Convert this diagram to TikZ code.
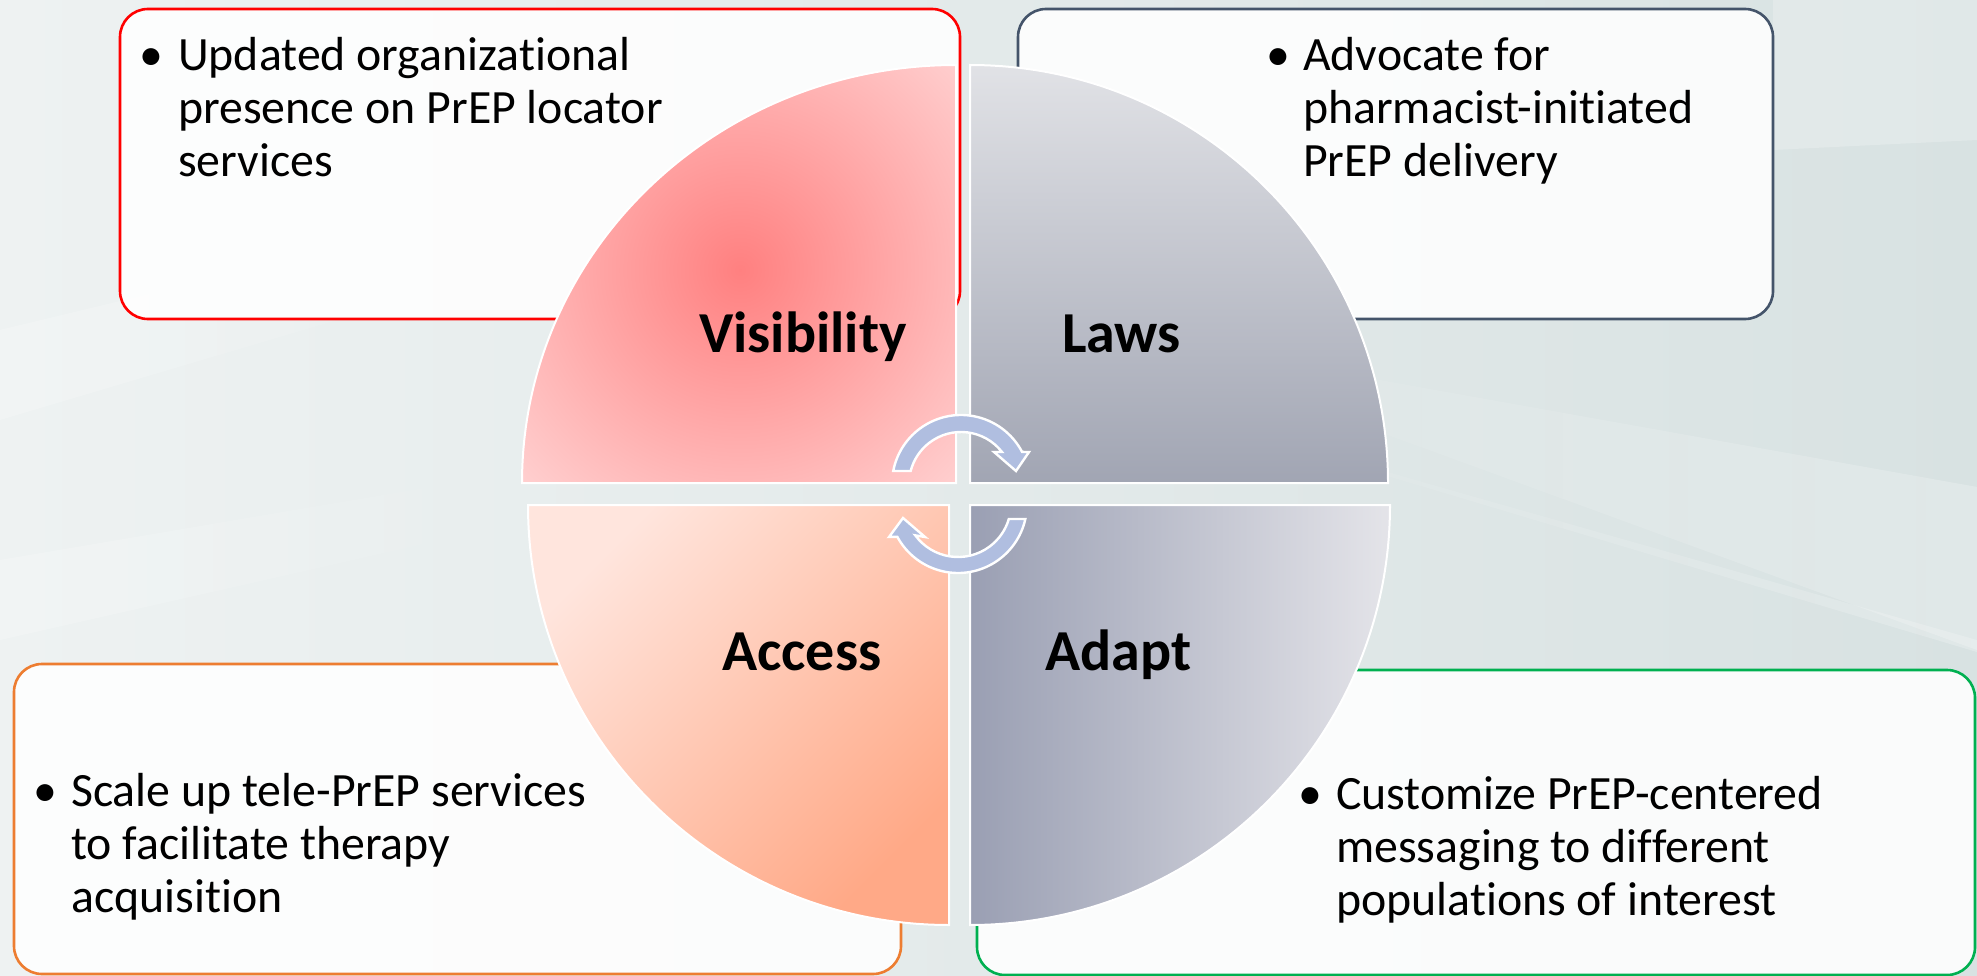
\documentclass[tikz,border=0pt]{standalone}
\usepackage{fontspec}
\setmainfont{Carlito}[Ligatures=NoCommon]
\usetikzlibrary{fadings}
\begin{document}
\begin{tikzpicture}[x=1pt,y=-1pt]
% palette
\definecolor{bgL}{HTML}{EEF2F2}
\definecolor{bgR}{HTML}{D8E2E2}
\definecolor{visCore}{HTML}{FF8080}
\definecolor{visEdge}{HTML}{FFD2D2}
\definecolor{lawTop}{HTML}{E1E2E6}
\definecolor{lawBot}{HTML}{A1A5B3}
\definecolor{accLight}{HTML}{FFE5DD}
\definecolor{accDeep}{HTML}{FFA987}
\definecolor{adaDeep}{HTML}{9A9FB3}
\definecolor{adaLight}{HTML}{E4E4E9}
\definecolor{arrowblue}{HTML}{B0BEE0}
\definecolor{lineRed}{HTML}{FF0000}
\definecolor{lineSlate}{HTML}{44546A}
\definecolor{lineOrange}{HTML}{ED7D31}
\definecolor{lineGreen}{HTML}{00B050}
\tikzset{
  card/.style={rounded corners=28pt, line width=2.6pt, fill=white, fill opacity=0.88},
  bodytxt/.style={inner sep=0pt, font=\fontsize{47.8}{53}\selectfont, anchor=base west},
  dot/.style={inner sep=0pt, font=\fontsize{47.8}{53}\selectfont, anchor=base},
  titletxt/.style={inner sep=0pt, font=\bfseries\fontsize{58}{68}\selectfont, anchor=base west},
  quad/.style={draw=white, line width=2pt},
  cycarrow/.style={fill=arrowblue, draw=white, line width=2.4pt, line join=miter},
  streak/.style={fill=white, opacity=0.22},
}
\useasboundingbox (0,0) rectangle (1977,976);

% backdrop with soft light streaks
\shade[left color=bgL, right color=bgR] (0,0) rectangle (1977,976);
\fill[streak, path fading=west] (1100,330) -- (1977,487) -- (1977,650) -- cycle;
\fill[streak, path fading=west] (1100,390) -- (1977,640) -- (1977,652) -- cycle;
\fill[streak] (1773,0) -- (1977,0) -- (1977,140) -- (1773,150) -- cycle;
\fill[streak, path fading=east] (0,330) -- (540,200) -- (540,260) -- (0,420) -- cycle;
\fill[streak, path fading=east] (0,560) -- (530,470) -- (530,520) -- (0,640) -- cycle;

% text cards
\draw[card, draw=lineRed]    (120,9)   rectangle (960,319);
\draw[card, draw=lineSlate]  (1018,9)  rectangle (1773,319);
\draw[card, draw=lineOrange] (14,664)  rectangle (901,974);
\draw[card, draw=lineGreen]  (977,670) rectangle (1975,975);

% quadrant: Visibility (radial glow)
\begin{scope}
  \clip (956,483) -- (522,483) arc[start angle=180, end angle=270, x radius=434, y radius=418] -- cycle;
  \fill[visEdge] (500,40) rectangle (980,500);
  \shade[inner color=visCore, outer color=visEdge] (740,270) circle[radius=315];
\end{scope}
\draw[quad] (956,483) -- (522,483) arc[start angle=180, end angle=270, x radius=434, y radius=418] -- cycle;

% quadrant: Laws
\draw[quad, top color=lawTop, bottom color=lawBot]
  (970,483) -- (1388,483) arc[start angle=0, end angle=-90, radius=418] -- cycle;

% quadrant: Access
\draw[quad, top color=accLight, bottom color=accDeep, shading angle=45]
  (949,505) -- (528,505) arc[start angle=180, end angle=90, x radius=421, y radius=420] -- cycle;

% quadrant: Adapt
\draw[quad, left color=adaDeep, right color=adaLight]
  (970,505) -- (1390,505) arc[start angle=0, end angle=90, radius=420] -- cycle;

% circular arrows
\begin{scope}[shift={(961,484)}]
  \draw[cycarrow] (190.9:69) arc[start angle=190.9, end angle=332.3, radius=69]
    -- (68,-32) -- (55,-13) -- (33,-32) -- (322:52)
    arc[start angle=322, end angle=194.5, radius=52] -- cycle;
\end{scope}
\begin{scope}[shift={(958,504)}]
  \draw[cycarrow] (12.6:69) arc[start angle=12.6, end angle=151.6, radius=69]
    -- (-69,33) -- (-55,14) -- (-33,33) -- (143.7:53)
    arc[start angle=143.7, end angle=16.4, radius=53] -- cycle;
\end{scope}

% quadrant titles
\node[titletxt] (vis) at (699,352) {Visibility};
\node[titletxt] (law) at (1062,352) {Laws};
\node[titletxt] (acc) at (722,670) {Access};
\node[titletxt] (ada) at (1045,670) {Adapt};

% card texts
\node[dot] (d1) at (151,71) {\textbullet};
\node[bodytxt] (t1) at (178,71) {\begin{tabular}[t]{@{}l@{}}Updated organizational\\presence on PrEP locator\\services\end{tabular}};
\node[dot] (d2) at (1278,71) {\textbullet};
\node[bodytxt] (t2) at (1303,71) {\begin{tabular}[t]{@{}l@{}}Advocate for\\pharmacist-initiated\\PrEP delivery\end{tabular}};
\node[dot] (d3) at (45,806) {\textbullet};
\node[bodytxt] (t3) at (71,806) {\begin{tabular}[t]{@{}l@{}}Scale up tele-PrEP services\\to facilitate therapy\\acquisition\end{tabular}};
\node[dot] (d4) at (1310,809) {\textbullet};
\node[bodytxt] (t4) at (1336,809) {\begin{tabular}[t]{@{}l@{}}Customize PrEP-centered\\messaging to different\\populations of interest\end{tabular}};
\end{tikzpicture}
\end{document}
